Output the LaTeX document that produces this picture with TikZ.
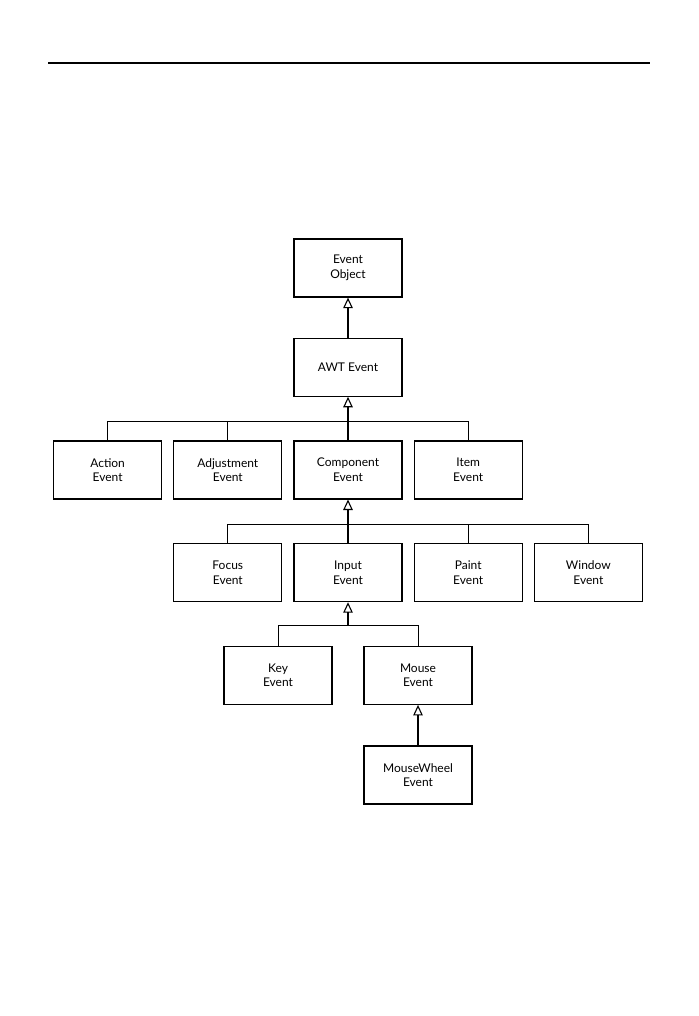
\documentclass[tikz,border=0pt]{standalone}
\usepackage{fontspec}
\setmainfont{Lato}
\usetikzlibrary{positioning,arrows.meta}
\begin{document}
\begin{tikzpicture}[node distance=43.5pt and 11pt,
    evt/.style={draw, line width=1.2pt, minimum width=108pt, minimum height=58pt,
                inner sep=0pt, align=center, font=\fontsize{12}{14.5}\selectfont},
    inh/.style={-{Triangle[open,length=10.5pt,width=9.5pt]}, line width=1.1pt},
    bus/.style={line width=1pt}]
        \useasboundingbox (0,0) rectangle (698pt,-1016pt);
        \draw[line width=1.3pt] (48pt,-63pt) -- (650pt,-63pt);
        % top of the tree
        \node (object) [evt] at (348pt,-268pt) {Event\\Object};
        \node (awt) [evt, below=40pt of object] {AWT Event};
        % second level
        \node (comp) [evt, below=of awt] {Component\\Event};
        \node (adjust) [evt, left=of comp] {Adjustment\\Event};
        \node (action) [evt, left=of adjust] {Action\\Event};
        \node (item) [evt, right=of comp] {Item\\Event};
        % component subclasses
        \node (input) [evt, below=of comp] {Input\\Event};
        \node (focus) [evt, left=of input] {Focus\\Event};
        \node (paint) [evt, right=of input] {Paint\\Event};
        \node (window) [evt, right=of paint] {Window\\Event};
        % input subclasses
        \node (key) [evt, below=of input, xshift=-70pt] {Key\\Event};
        \node (mouse) [evt, below=of input, xshift=70pt] {Mouse\\Event};
        \node (wheel) [evt, below=40.5pt of mouse] {MouseWheel\\Event};

        \draw[inh] (awt) -- (object);
        \draw[bus] (action.north) -- ++(0,19pt) -| (item.north);
        \draw[bus] (adjust.north) -- ++(0,19pt);
        \draw[inh] (comp.north) -- (awt.south);
        \draw[bus] (focus.north) -- ++(0,19pt) -| (window.north);
        \draw[bus] (paint.north) -- ++(0,19pt);
        \draw[inh] (input.north) -- (comp.south);
        \path (key.north) ++(0,20pt) coordinate (bus5);
        \draw[bus] (key.north) -- (bus5) -| (mouse.north);
        \draw[inh] (bus5 -| input.south) -- (input.south);
        \draw[inh] (wheel) -- (mouse);
\end{tikzpicture}
\end{document}
